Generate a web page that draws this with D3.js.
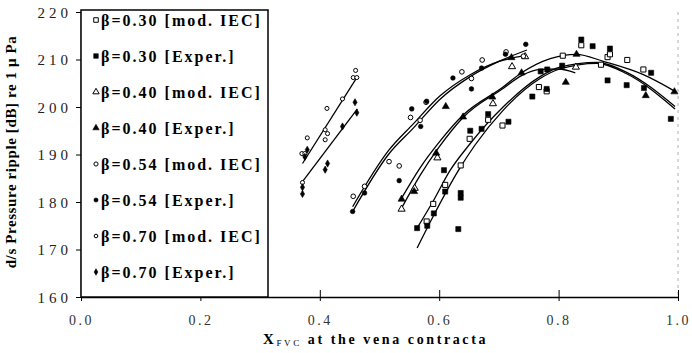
<!DOCTYPE html>
<html>
<head>
<meta charset="utf-8">
<script src="https://cdn.jsdelivr.net/npm/d3@7"></script>
<style>
  body { margin: 0; background: #fff; }
  svg { display: block; }
  svg text { font-family: 'Liberation Serif', 'Times New Roman', serif; }
</style>
</head>
<body>
<div id="chart"></div>
<script>
/* Data: [X_FVC, dB] */
const b30Mod = [[0.579,175.9],[0.590,179.6],[0.610,183.6],[0.636,187.7],[0.651,193.3],[0.682,197.3],[0.706,196.1],[0.767,204.2],[0.780,203.3],[0.807,210.8],[0.838,213.0],[0.871,208.9],[0.882,210.5],[0.886,211.1],[0.915,209.9],[0.942,207.9]];
const b30Exp = [[0.563,174.5],[0.580,175.0],[0.591,177.6],[0.608,186.7],[0.610,182.2],[0.632,174.3],[0.636,181.9],[0.636,180.9],[0.652,195.0],[0.671,195.4],[0.682,198.5],[0.716,196.9],[0.756,202.2],[0.770,207.5],[0.781,207.9],[0.780,203.8],[0.806,208.7],[0.838,214.2],[0.857,212.8],[0.886,212.3],[0.882,205.6],[0.914,204.6],[0.943,204.0],[0.955,207.2],[0.988,197.5]];
const b40Mod = [[0.537,178.5],[0.559,182.9],[0.597,189.3],[0.690,200.7],[0.722,208.5],[0.744,210.6],[0.829,208.4]];
const b40Exp = [[0.537,180.6],[0.558,182.2],[0.595,190.3],[0.611,200.1],[0.640,197.9],[0.689,202.1],[0.721,210.4],[0.738,207.2],[0.812,205.2],[0.830,211.1],[0.946,202.4],[0.994,203.2]];
const b54Mod = [[0.456,181.2],[0.475,183.3],[0.516,188.5],[0.533,187.6],[0.552,197.8],[0.568,197.2],[0.578,201.0],[0.638,207.4],[0.654,206.0],[0.672,209.9],[0.712,211.6],[0.741,210.7]];
const b54Exp = [[0.455,178.0],[0.475,181.9],[0.533,184.5],[0.554,199.6],[0.569,195.9],[0.579,201.2],[0.623,206.1],[0.654,203.8],[0.671,208.2],[0.711,211.1],[0.745,213.2]];
const b70Mod = [[0.370,190.2],[0.375,190.2],[0.371,184.1],[0.379,193.5],[0.409,195.2],[0.413,194.4],[0.409,193.1],[0.412,199.7],[0.438,201.7],[0.456,206.2],[0.462,206.2],[0.460,207.7]];
const b70Exp = [[0.371,183.1],[0.371,181.7],[0.375,189.5],[0.379,191.0],[0.409,186.8],[0.413,188.1],[0.438,195.9],[0.459,201.0],[0.462,198.8]];

/* fitted curves */
const fit70Mod = [[0.371,188.1],[0.463,206.4]];
const fit70Exp = [[0.371,184.3],[0.463,199.6]];
const fit54Mod = [[0.455,179.0],[0.515,190.8],[0.557,196.5],[0.601,202.3],[0.652,206.8],[0.700,209.6],[0.745,210.8]];
const fit54Exp = [[0.455,178.0],[0.515,190.0],[0.557,195.6],[0.601,201.6],[0.652,206.4],[0.700,209.6],[0.747,212.0]];
const fit40Mod = [[0.537,180.8],[0.568,187.2],[0.600,192.6],[0.640,198.3],[0.707,204.2],[0.738,207.2],[0.786,210.2],[0.830,211.1],[0.875,209.6],[0.942,206.8],[0.995,203.3]];
const fit40Exp = [[0.537,178.7],[0.568,185.6],[0.600,191.6],[0.640,197.8],[0.707,203.9],[0.738,206.6],[0.770,207.9],[0.800,208.0],[0.828,207.2]];
const fit30Mod = [[0.563,174.5],[0.590,180.2],[0.618,186.6],[0.650,192.0],[0.707,200.0],[0.769,206.4],[0.802,208.4],[0.864,209.4],[0.914,207.3],[0.995,200.1]];
const fit30Exp = [[0.563,170.3],[0.590,177.0],[0.632,186.6],[0.660,192.0],[0.707,199.3],[0.769,206.0],[0.802,208.0],[0.864,209.2],[0.914,207.0],[0.995,199.6]];

const legendLabels = ["β=0.30 [mod. IEC]", "β=0.30 [Exper.]", "β=0.40 [mod. IEC]", "β=0.40 [Exper.]",
                      "β=0.54 [mod. IEC]", "β=0.54 [Exper.]", "β=0.70 [mod. IEC]", "β=0.70 [Exper.]"];
const xTicks = [0, 0.2, 0.4, 0.6, 0.8, 1.0];
const yTicks = [160, 170, 180, 190, 200, 210, 220];

var width = 692, height = 353;
var serif = "'Liberation Serif', 'Times New Roman', serif";

var svg = d3.select("#chart").append("svg")
  .attr("width", width)
  .attr("height", height)
  .attr("font-family", serif);

/* Scales */
var xScale = d3.scaleLinear().domain([0, 1]).range([81, 678]);
var yScale = d3.scaleLinear().domain([160, 220]).range([297, 12]);

/* series styles: symbol type + filled */
var series = [
  {pts: b30Mod, sym: d3.symbolSquare, fill: false, size: 26},
  {pts: b30Exp, sym: d3.symbolSquare, fill: true, size: 26},
  {pts: b40Mod, sym: d3.symbolTriangle, fill: false, size: 22},
  {pts: b40Exp, sym: d3.symbolTriangle, fill: true, size: 22},
  {pts: b54Mod, sym: d3.symbolCircle, fill: false, size: 17},
  {pts: b54Exp, sym: d3.symbolCircle, fill: true, size: 17},
  {pts: b70Mod, sym: d3.symbolCircle, fill: false, size: 13},
  {pts: b70Exp, sym: d3.symbolDiamond, fill: true, size: 15}
];

/* faint frame on the right */
svg.append("line")
  .attr("x1", xScale(1)).attr("x2", xScale(1))
  .attr("y1", yScale(220)).attr("y2", yScale(160))
  .attr("stroke", "#999").attr("stroke-width", 0.8)
  .attr("stroke-dasharray", "3,4");

/* Axes */
var xAxis = d3.axisBottom(xScale).tickValues(xTicks).tickSize(0).tickFormat(d3.format(".1f"));
var gx = svg.append("g")
  .attr("transform", `translate(0, ${yScale(160)})`)
  .call(xAxis)
  .attr("font-family", serif);
gx.select(".domain").attr("stroke", "#000").attr("stroke-width", 1.4);
gx.selectAll(".tick").append("line")
  .attr("y1", -7).attr("y2", 4).attr("stroke", "#000").attr("stroke-width", 1);
gx.selectAll("text")
  .attr("y", 28)
  .attr("dy", 0)
  .attr("fill", "#333")
  .style("font-size", "14px")
  .style("letter-spacing", "2.5px");

var yAxis = d3.axisLeft(yScale).tickValues(yTicks).tickSize(0).tickFormat(d3.format("d"));
var gy = svg.append("g")
  .attr("transform", `translate(${xScale(0)}, 0)`)
  .call(yAxis)
  .attr("font-family", serif);
gy.select(".domain").attr("stroke", "#000").attr("stroke-width", 1.4);
gy.selectAll(".tick").append("line")
  .attr("x1", -5).attr("x2", 5).attr("stroke", "#000").attr("stroke-width", 1);
gy.selectAll("text")
  .attr("x", -9)
  .attr("dy", "0.35em")
  .attr("fill", "#222")
  .style("font-size", "15px")
  .style("letter-spacing", "4px");

/* Axis titles */
var xt = svg.append("text")
  .attr("x", 263).attr("y", 344)
  .attr("font-weight", "bold")
  .attr("font-size", 14)
  .style("letter-spacing", "2.6px");
xt.append("tspan").attr("font-size", 15).text("X");
xt.append("tspan").attr("dy", 2).attr("font-size", 9).attr("font-weight", "normal").text("FVC");
xt.append("tspan").attr("dy", -2).text(" at the vena contracta");

svg.append("text")
  .attr("transform", "translate(16, 152) rotate(-90)")
  .attr("text-anchor", "middle")
  .attr("font-weight", "bold")
  .attr("font-size", 15)
  .style("letter-spacing", "0.6px")
  .text("d/s Pressure ripple [dB] re 1 μ Pa");

/* Fit lines */
var line = d3.line()
  .x(d => xScale(d[0]))
  .y(d => yScale(d[1]))
  .curve(d3.curveMonotoneX);

var fits = [fit70Mod, fit70Exp, fit54Mod, fit54Exp, fit40Mod, fit40Exp, fit30Mod, fit30Exp];
svg.append("g").selectAll("path")
  .data(fits).enter()
  .append("path")
  .attr("d", d => line(d))
  .attr("fill", "none")
  .attr("stroke", "#000")
  .attr("stroke-width", 1.3);

/* Points */
series.forEach(function (s) {
  svg.append("g").selectAll("path")
    .data(s.pts).enter()
    .append("path")
    .attr("transform", d => `translate(${xScale(d[0])}, ${yScale(d[1])})`)
    .attr("d", d3.symbol().type(s.sym).size(s.size))
    .attr("fill", s.fill ? "#000" : "#fff")
    .attr("stroke", "#000")
    .attr("stroke-width", s.fill ? 0.6 : 1);
});

/* Legend box */
var legend = svg.append("g");
legend.append("rect")
  .attr("x", 81).attr("y", 10)
  .attr("width", 187).attr("height", 287)
  .attr("fill", "#fff")
  .attr("stroke", "#000")
  .attr("stroke-width", 1.5);

var items = legend.selectAll(".item")
  .data(legendLabels).enter()
  .append("g")
  .attr("class", "item")
  .attr("transform", (d, i) => `translate(96, ${20 + i * 36})`);

items.append("path")
  .attr("d", (d, i) => d3.symbol().type(series[i].sym).size(series[i].size * 0.8)())
  .attr("fill", (d, i) => series[i].fill ? "#000" : "#fff")
  .attr("stroke", "#000")
  .attr("stroke-width", (d, i) => series[i].fill ? 0.6 : 1);

items.append("text")
  .attr("x", 5)
  .attr("dy", "0.36em")
  .attr("font-weight", "bold")
  .attr("font-size", 16)
  .style("letter-spacing", "2px")
  .text(d => d);
</script>
</body>
</html>
